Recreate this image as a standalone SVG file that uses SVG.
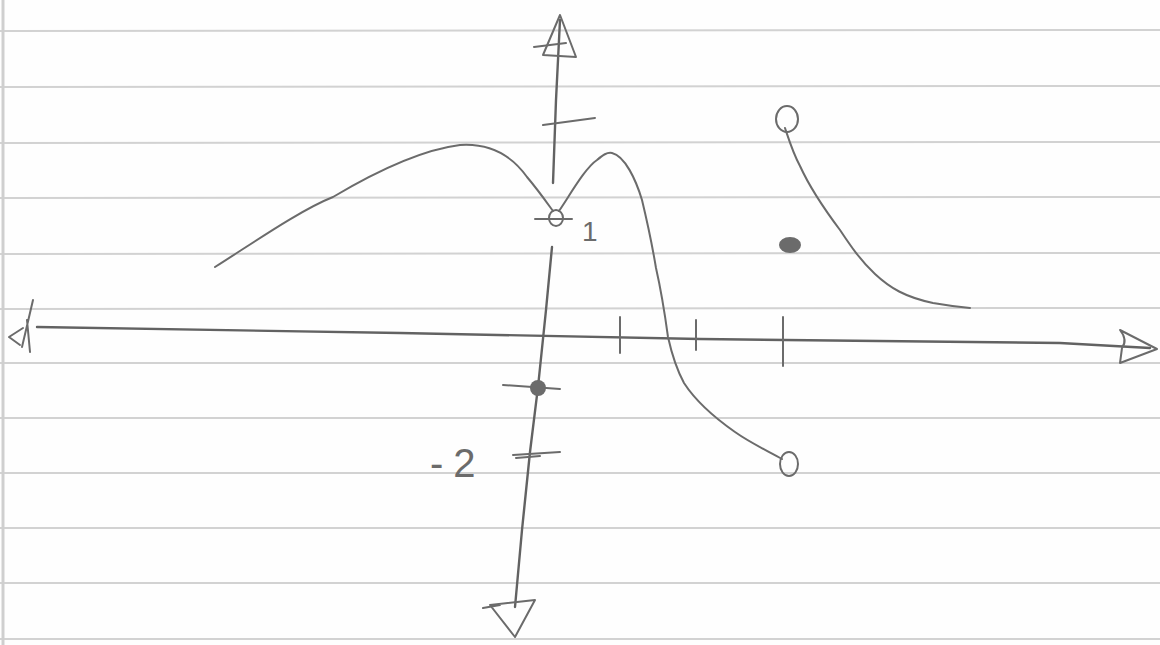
<svg xmlns="http://www.w3.org/2000/svg" width="1160" height="645" viewBox="0 0 1160 645">
  <style>
    .rule { stroke: #d2d2d2; stroke-width: 2; fill: none; }
    .pen { stroke: #6b6b6b; fill: none; stroke-linecap: round; stroke-linejoin: round; }
    .axis { stroke-width: 2.4; stroke: #626262; }
    .curve { stroke-width: 2; }
    .hand { font-family: "Liberation Sans", "DejaVu Sans", sans-serif; fill: #6b6b6b; }
  </style>
  <rect width="1160" height="645" fill="#fefefe"/>
  <g id="paper">
    <line class="rule" x1="0" y1="31" x2="1160" y2="30"/>
    <line class="rule" x1="0" y1="87" x2="1160" y2="86"/>
    <line class="rule" x1="0" y1="143" x2="1160" y2="142"/>
    <line class="rule" x1="0" y1="198" x2="1160" y2="197"/>
    <line class="rule" x1="0" y1="254" x2="1160" y2="253"/>
    <line class="rule" x1="0" y1="309" x2="1160" y2="308"/>
    <line class="rule" x1="0" y1="363" x2="1160" y2="363"/>
    <line class="rule" x1="0" y1="418" x2="1160" y2="418"/>
    <line class="rule" x1="0" y1="473" x2="1160" y2="473"/>
    <line class="rule" x1="0" y1="528" x2="1160" y2="528"/>
    <line class="rule" x1="0" y1="583" x2="1160" y2="583"/>
    <line class="rule" x1="0" y1="639" x2="1160" y2="639"/>
    <line x1="3" y1="0" x2="3" y2="645" stroke="#cfcfcf" stroke-width="3"/>
  </g>
  <g id="x-axis">
    <path class="pen axis" d="M37,327 L400,333 L700,339 L1060,343 L1150,348"/>
    <path class="pen curve" d="M33,300 L26,330 L22,347 M30,352 L27,320 M9,337 L23,328 M9,337 L20,345"/>
    <path class="pen curve" d="M1157,349 L1120,330 Q1128,340 1122,348 L1120,363 Z"/>
    <line class="pen curve" x1="620" y1="317" x2="620" y2="353"/>
    <line class="pen curve" x1="696" y1="320" x2="696" y2="350"/>
    <line class="pen curve" x1="783" y1="317" x2="783" y2="366"/>
  </g>
  <g id="y-axis">
    <path class="pen axis" d="M560,20 L556,100 L553,183 M552,247 L546,310 L538,387 L530,452 L522,530 L515,607"/>
    <path class="pen curve" d="M560,15 L543,55 L576,57 Z"/>
    <line class="pen curve" x1="534" y1="47" x2="566" y2="43"/>
    <path class="pen curve" d="M515,637 L490,605 L535,600 Z M483,608 L500,605"/>
    <line class="pen curve" x1="543" y1="125" x2="595" y2="118"/>
    <line class="pen curve" x1="535" y1="219" x2="572" y2="219"/>
    <line class="pen curve" x1="503" y1="385" x2="560" y2="389"/>
    <path class="pen curve" d="M513,455 L560,452 M516,458 L540,456"/>
    <ellipse cx="538" cy="388" rx="8" ry="8" fill="#6b6b6b"/>
    <text class="hand" x="582" y="241" font-size="28">1</text>
    <text class="hand" x="430" y="477" font-size="40" letter-spacing="10">-2</text>
  </g>
  <g id="graph">
    <path class="pen curve" d="M215,267 C250,245 300,210 333,197 C370,175 420,150 460,145 C490,143 512,156 527,177 C538,190 545,200 553,211"/>
    <ellipse class="pen curve" cx="556" cy="218" rx="7" ry="8"/>
    <path class="pen curve" d="M559,211 C570,195 585,168 597,160 C603,155 607,152 612,153 C625,156 636,180 642,200 C648,225 653,250 656,268 C661,290 665,315 668,337 C672,355 677,370 684,383 C695,400 715,418 735,432 C752,444 770,452 782,459"/>
    <ellipse class="pen curve" cx="789" cy="464" rx="9" ry="12"/>
    <ellipse class="pen curve" cx="787" cy="119" rx="11" ry="13"/>
    <path class="pen curve" d="M785,128 C789,140 793,153 800,166 C810,188 825,210 840,230 C850,245 860,260 875,274 C890,288 905,297 933,303 C950,306 960,307 970,308"/>
    <ellipse cx="790" cy="245" rx="11" ry="8" fill="#6b6b6b"/>
  </g>
</svg>
